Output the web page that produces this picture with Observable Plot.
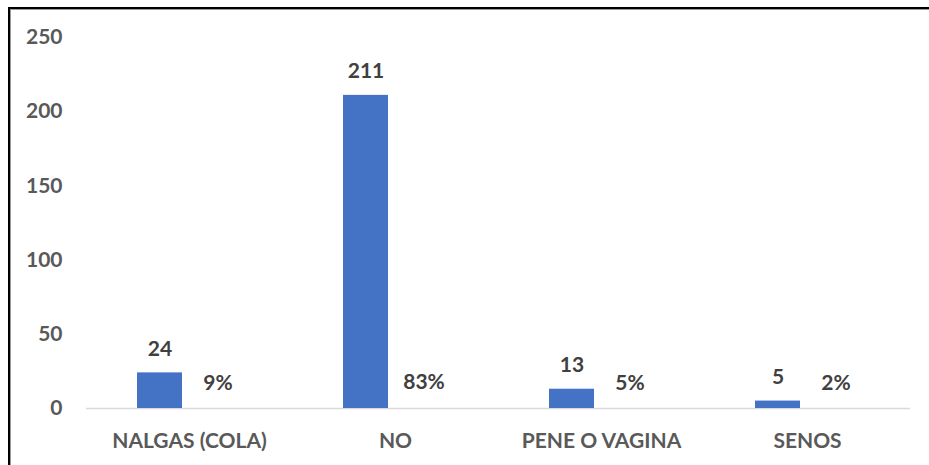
<!DOCTYPE html>
<html>
<head>
<meta charset="utf-8">
<script src="https://cdn.jsdelivr.net/npm/d3@7"></script>
<script src="https://cdn.jsdelivr.net/npm/@observablehq/plot@0.6"></script>
<style>
  html, body { margin: 0; padding: 0; background: #fff; }
  #wrap { position: relative; width: 929px; height: 465px; overflow: hidden; }
  #frame { position: absolute; left: 8px; top: 7px; width: 940px; height: 480px;
           border-top: 2px solid #000; border-left: 2px solid #000;
           box-shadow: inset 1px 1px 0 #9a9a9a; pointer-events: none; }
  svg { display: block; }
</style>
</head>
<body>
<div id="wrap"><div id="frame"></div></div>
<script>
const categories = ["NALGAS (COLA)", "NO", "PENE O VAGINA", "SENOS"];
const counts = [24, 211, 13, 5];
const percents = [9, 83, 5, 2];
const yTicks = [0, 50, 100, 150, 200, 250];
const seriesNames = ["count", "pct"];

const countData = categories.map((c, i) => ({category: c, series: "count", value: counts[i]}));
const pctData = categories.map((c, i) => ({category: c, series: "pct", value: percents[i] / 100, label: percents[i] + "%"}));

const font = "Lato, 'Open Sans', sans-serif";
const fs = 21;

const chart = Plot.plot({
  width: 929,
  height: 465,
  marginLeft: 86,
  marginRight: 19,
  marginTop: 37,
  marginBottom: 57,
  style: {fontFamily: font, background: "transparent"},
  fx: {domain: categories, paddingInner: 0, paddingOuter: 0, label: null},
  x: {domain: seriesNames, paddingInner: 13 / 59, paddingOuter: 0.856, axis: null},
  y: {domain: [0, 250], label: null},
  marks: [
    Plot.axisY({ticks: yTicks, tickSize: 0, tickPadding: 24, fill: "#595959", fontSize: fs, fontWeight: "bold", label: null}),
    Plot.axisFx({anchor: "bottom", tickSize: 0, tickPadding: 25, fill: "#595959", fontSize: fs, fontWeight: "bold", label: null}),
    Plot.ruleY([0], {stroke: "#d9d9d9", strokeWidth: 1.5}),
    Plot.barY(countData, {fx: "category", x: "series", y: "value", fill: "#4472C4"}),
    Plot.text(countData, {fx: "category", x: "series", y: "value", text: d => String(d.value), dy: -24, fill: "#404040", fontSize: fs, fontWeight: "bold"}),
    Plot.text(pctData, {fx: "category", x: "series", y: "value", text: "label", dy: -25, fill: "#404040", fontSize: fs, fontWeight: "bold"})
  ]
});
document.getElementById("wrap").insertBefore(chart, document.getElementById("frame"));
</script>
</body>
</html>
